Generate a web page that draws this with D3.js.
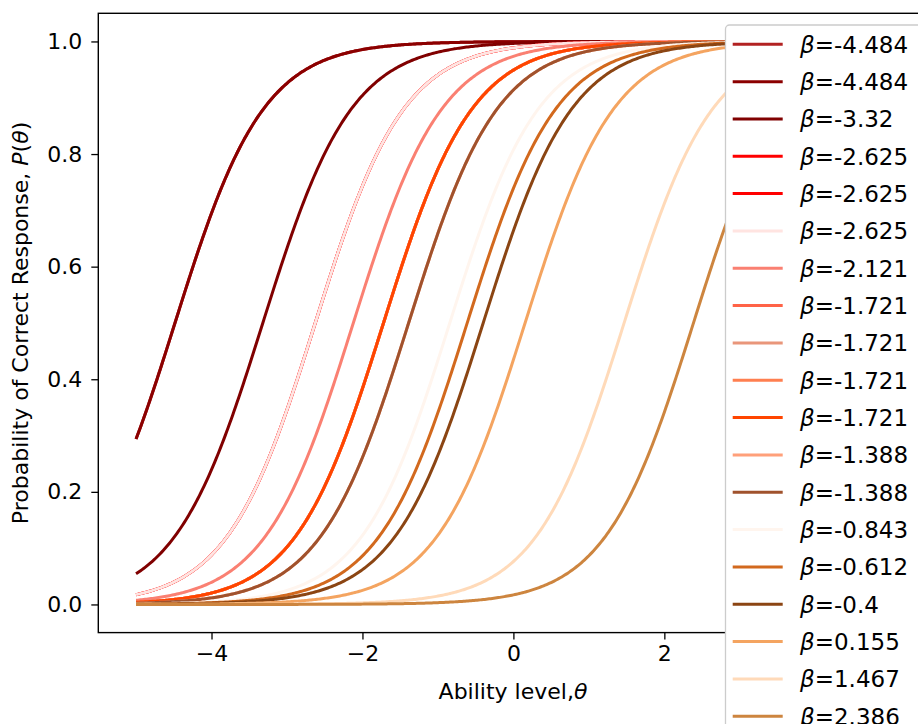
<!DOCTYPE html>
<html>
<head>
<meta charset="utf-8">
<script src="https://cdn.jsdelivr.net/npm/d3@7"></script>
<style>
  html, body { margin: 0; padding: 0; background: #fff; }
  svg { display: block; font-family: "DejaVu Sans", sans-serif; }
</style>
</head>
<body>
<svg id="chart" width="918" height="724"></svg>
<script>
// ---- data ----
const betas = [-4.484, -4.484, -3.32, -2.625, -2.625, -2.625, -2.121, -1.721, -1.721, -1.721, -1.721,
               -1.388, -1.388, -0.843, -0.612, -0.4, 0.155, 1.467, 2.386];
const betaLabels = ["-4.484", "-4.484", "-3.32", "-2.625", "-2.625", "-2.625", "-2.121", "-1.721", "-1.721",
                    "-1.721", "-1.721", "-1.388", "-1.388", "-0.843", "-0.612", "-0.4", "0.155", "1.467", "2.386"];
const colors = ["#b22222", "#8b0000", "#800000", "#ff0000", "#ff0000", "#ffe4e1", "#fa8072", "#ff6347",
                "#e9967a", "#ff7f50", "#ff4500", "#ffa07a", "#a0522d", "#fff5ee", "#d2691e", "#8b4513",
                "#f4a460", "#ffdab9", "#cd853f"];
const scalingD = 1.7;                 // logistic scaling constant of the 1PL model
const thetaMin = -5, thetaMax = 5;    // plotted ability range
const xTicks = [-4, -2, 0, 2];        // the "4" tick lies hidden under the legend
const yTicks = [0.0, 0.2, 0.4, 0.6, 0.8, 1.0];

// ---- layout ----
const svg = d3.select("#chart");
const plot = { left: 98.3, top: 13.3, right: 928.5, bottom: 632.6 };

const x = d3.scaleLinear().domain([-5.5, 5.5]).range([plot.left, plot.right]);
const y = d3.scaleLinear().domain([-0.05, 1.05]).range([plot.bottom, plot.top]);

svg.append("defs").append("clipPath").attr("id", "clip")
  .append("rect").attr("x", plot.left).attr("y", plot.top)
  .attr("width", plot.right - plot.left).attr("height", plot.bottom - plot.top);

const thetas = d3.range(thetaMin, thetaMax + 1e-9, 0.02);
const icc = (b) => thetas.map(t => [t, 1 / (1 + Math.exp(-scalingD * (t - b)))]);

const line = d3.line().x(d => x(d[0])).y(d => y(d[1]));

const g = svg.append("g").attr("clip-path", "url(#clip)");
betas.forEach((b, i) => {
  g.append("path").datum(icc(b))
    .attr("d", line)
    .attr("fill", "none")
    .attr("stroke", colors[i])
    .attr("stroke-width", 3)
    .attr("stroke-linejoin", "round");
});

// ---- axes ----
const fontSize = 22;
const xAxis = d3.axisBottom(x).tickValues(xTicks).tickSize(7).tickPadding(6)
  .tickFormat(d => d3.format("d")(d).replace("-", "\u2212"));
const gx = svg.append("g").attr("transform", `translate(0,${plot.bottom})`).call(xAxis);
const yAxis = d3.axisLeft(y).tickValues(yTicks).tickSize(7).tickPadding(9)
  .tickFormat(d3.format(".1f"));
const gy = svg.append("g").attr("transform", `translate(${plot.left},0)`).call(yAxis);

[gx, gy].forEach(a => {
  a.select(".domain").remove();
  a.selectAll(".tick line").attr("stroke", "#000").attr("stroke-width", 1.3);
  a.selectAll(".tick text").attr("font-size", fontSize).attr("font-family", "DejaVu Sans").attr("fill", "#000");
});

// spines
svg.append("rect").attr("x", plot.left).attr("y", plot.top)
  .attr("width", plot.right - plot.left).attr("height", plot.bottom - plot.top)
  .attr("fill", "none").attr("stroke", "#000").attr("stroke-width", 1.4);

// axis labels
const xl = svg.append("text").attr("x", 513).attr("y", 699).attr("text-anchor", "middle")
  .attr("font-size", fontSize).attr("fill", "#000");
xl.append("tspan").text("Ability level,");
xl.append("tspan").attr("font-style", "italic").text("\u03b8");

const yl = svg.append("text").attr("transform", `translate(28,${(plot.top + plot.bottom) / 2}) rotate(-90)`)
  .attr("text-anchor", "middle").attr("font-size", fontSize).attr("fill", "#000");
yl.append("tspan").text("Probability of Correct Response, ");
yl.append("tspan").attr("font-style", "italic").text("P");
yl.append("tspan").text("(");
yl.append("tspan").attr("font-style", "italic").text("\u03b8");
yl.append("tspan").text(")");

// ---- legend ----
const lg = svg.append("g");
const legX = 725.5, legY = 25, rowH = 37.33, firstRow = 44.3;
lg.append("rect").attr("x", legX).attr("y", legY)
  .attr("width", 240).attr("height", 760).attr("rx", 4)
  .attr("fill", "#fff")
  .attr("stroke", "#cccccc").attr("stroke-width", 1.3);
betaLabels.forEach((lab, i) => {
  const cy = firstRow + i * rowH;
  lg.append("line").attr("x1", 732.7).attr("x2", 782.7).attr("y1", cy).attr("y2", cy)
    .attr("stroke", colors[i]).attr("stroke-width", 3);
  const t = lg.append("text").attr("x", 800).attr("y", cy + 8.5)
    .attr("font-size", 23).attr("fill", "#000");
  t.append("tspan").attr("font-style", "italic").text("\u03b2");
  t.append("tspan").text("=" + lab);
});
</script>
</body>
</html>
